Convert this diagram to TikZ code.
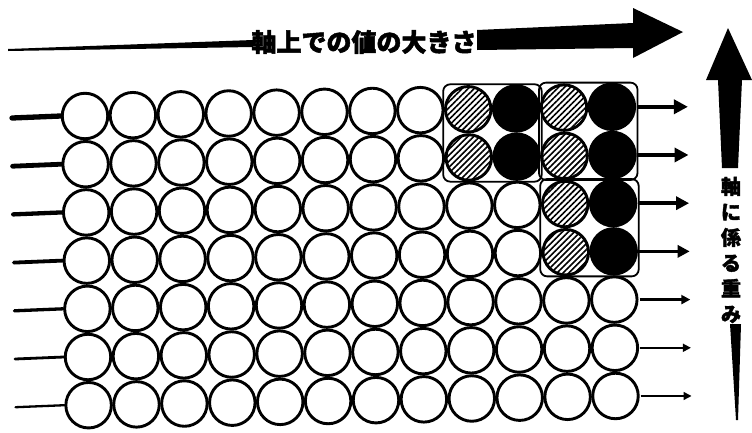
\documentclass[tikz,border=0pt]{standalone}
\usepackage{fontspec}
\newfontfamily\cjk{Noto Sans CJK JP}[BoldFeatures={FakeBold=2}]
\usetikzlibrary{calc,arrows.meta,patterns.meta}
\begin{document}
\begin{tikzpicture}[x=1pt,y=-1pt]
\useasboundingbox (0,0) rectangle (752,432);
\tikzset{
  ball/.style={circle, draw=black, line width=2.9pt, minimum size=45.5pt, inner sep=0pt, fill=white},
  hatchball/.style={ball, postaction={pattern={Lines[angle=45,distance=4.2pt,line width=1.6pt]}, pattern color=black}},
  blackball/.style={ball, fill=black},
  groupbox/.style={draw=black, line width=1.8pt, rounded corners=7pt},
  inline/.style={draw=black, line cap=round},
  outarrow/.style={draw=black, -{Triangle[length=#1pt, width=#1pt]}},
  bigtext/.style={font=\cjk\bfseries\fontsize{25}{25}\selectfont, inner sep=0pt},
  vtext/.style={font=\cjk\bfseries\fontsize{20}{25.5}\selectfont, inner sep=0pt, align=center}
}
% grid of circles
\foreach \r in {1,...,7} {
  \foreach \c in {1,...,12} {
    \pgfmathsetmacro\px{85+47.9*(\c-1)+0.6*(\r-1)}
    \pgfmathsetmacro\py{116+48.2*(\r-1)-0.0175*47.9*(\c-1)}
    \pgfmathtruncatemacro\kind{((\r<3 && \c>8) || (\r<5 && \c>10)) ? (isodd(\c) ? 1 : 2) : 0}
    \ifnum\kind=0 \node[ball] (c-\r-\c) at (\px,\py) {};\fi
    \ifnum\kind=1 \node[hatchball] (c-\r-\c) at (\px,\py) {};\fi
    \ifnum\kind=2 \node[blackball] (c-\r-\c) at (\px,\py) {};\fi
  }
}
% group boxes
\draw[groupbox] ($(c-1-9)+(-25,-25)$) rectangle ($(c-2-10)+(25,25)$);
\draw[groupbox] ($(c-1-11)+(-25,-25)$) rectangle ($(c-2-12)+(25,25)$);
\draw[groupbox] ($(c-3-11)+(-25,-25)$) rectangle ($(c-4-12)+(25,25)$);
% left input lines
\foreach \r in {1,...,7} {
  \pgfmathsetmacro\lw{5.3-0.5*(\r-1)}
  \coordinate (le-\r) at ($(c-\r-1)+(-73,2)$);
  \draw[inline, line width=\lw pt] (le-\r) -- (c-\r-1.west);
}
% right output arrows
\foreach \r/\lw/\tip in {1/4.5/14, 2/4.5/14, 3/3.6/13, 4/3.4/12, 5/2.2/9, 6/1.7/8, 7/1.4/8} {
  \coordinate (re-\r) at ($(c-\r-12)+(76,0)$);
  \draw[outarrow=\tip, line width=\lw pt] ($(c-\r-12.east)+(1,0)$) -- (re-\r);
}
% top arrow
\node[bigtext] (htitle) at (364,42) {軸上での値の大きさ};
\fill[black] (8,49) -- (253,40) -- (253,47) -- (8,51) -- cycle;
\fill[black] (477,30) -- (633,23) -- (633,8) -- (683,32) -- (633,58) -- (633,48) -- (477,50) -- cycle;
% right vertical arrow
\node[vtext] (vtitle) at (731,250) {軸\\に\\係\\る\\重\\み};
\fill[black] (718,80) -- (706,80) -- (728,28) -- (752,80) -- (742,80) -- (738,168) -- (722,168) -- cycle;
\fill[black] (730,324) -- (741,324) -- (738,420) -- (736,420) -- cycle;
\end{tikzpicture}
\end{document}
